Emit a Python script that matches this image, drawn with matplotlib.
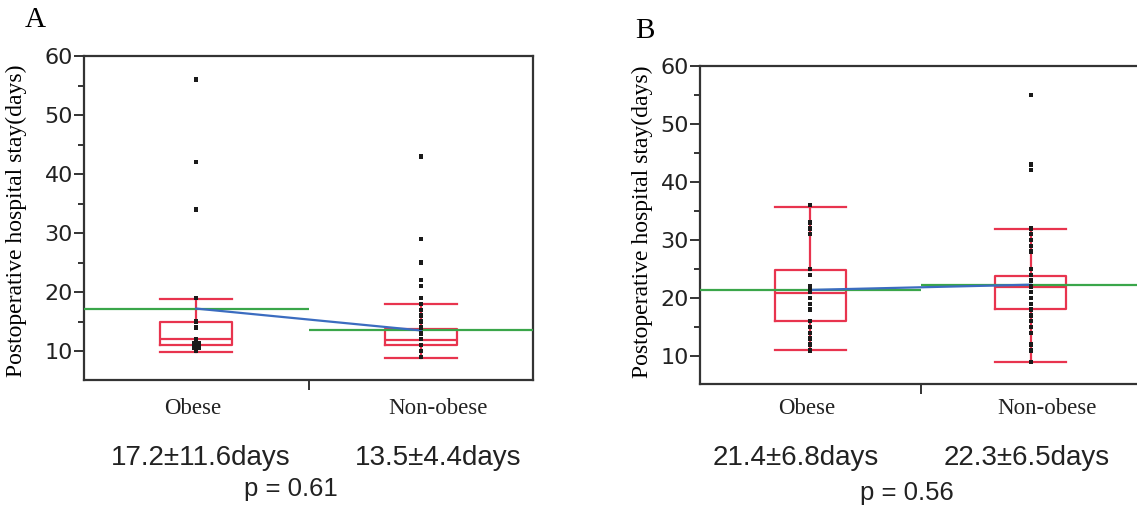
import matplotlib
matplotlib.use("Agg")
import matplotlib.pyplot as plt
import numpy as np

# values
groups = ["Obese", "Non-obese"]

# panel A
a_points = [
    [56, 42, 34, 19, 15, 14, 12, 11, 11, 11, 11, 11, 11, 10],
    [43, 29, 25, 22, 21, 19, 18, 17, 16, 15, 14, 13, 12, 11, 10, 9],
]
a_q1 = [11.0, 11.1]
a_med = [12.0, 11.9]
a_q3 = [15.0, 13.8]
a_lo = [9.9, 8.9]
a_hi = [18.9, 18.0]
a_mean = [17.2, 13.5]
a_sd = [11.6, 4.4]
a_p = 0.61

# panel B
b_points = [
    [36, 33, 32, 31, 25, 24, 22, 21.5, 21, 20, 19, 18, 16, 15, 14, 13, 12, 11],
    [55, 43, 42, 32, 31, 30, 29, 28, 25, 24, 23, 22, 21, 20, 19, 18, 17, 16,
     15, 14, 12, 11, 9],
]
b_q1 = [16.0, 18.1]
b_med = [20.8, 21.9]
b_q3 = [24.8, 23.8]
b_lo = [11.0, 9.0]
b_hi = [35.7, 31.8]
b_mean = [21.4, 22.3]
b_sd = [6.8, 6.5]
b_p = 0.56

RED = "#e8344e"
GREEN = "#3aa64a"
BLUE = "#3b6cc0"
SPINE = "#333333"


def draw_panel(ax, points, q1, med, q3, lo, hi, mean, xmax):
    pos = np.arange(1, len(groups) + 1)
    stats = []
    for i in range(len(groups)):
        stats.append(dict(q1=q1[i], med=med[i], q3=q3[i], whislo=lo[i],
                          whishi=hi[i], fliers=[]))
    line = dict(color=RED, linewidth=1.6)
    ax.bxp(stats, positions=pos, widths=0.32, capwidths=0.32,
           boxprops=line, whiskerprops=line, capprops=line, medianprops=line,
           showfliers=False, zorder=2)

    # group means: green across each half, blue joining them
    xmin = 0.5
    ax.hlines(mean[0], xmin, 1.5, color=GREEN, linewidth=1.6, zorder=3)
    ax.hlines(mean[1], 1.5, xmax, color=GREEN, linewidth=1.6, zorder=3)
    ax.plot(pos, mean, color=BLUE, linewidth=1.6, zorder=4)

    for i, vals in enumerate(points):
        u, c = np.unique(vals, return_counts=True)
        sizes = np.where(c > 1, 45, 10)
        ax.scatter(np.full(len(u), pos[i]), u, s=sizes, marker="s",
                   color="#1a1a1a", linewidths=0, zorder=5)

    ax.set_xlim(xmin, xmax)
    ax.set_xticks([1.5])
    ax.set_xticklabels([])
    ax.set_yticks(np.arange(10, 61, 10))
    ax.set_yticks(np.arange(10, 61, 5), minor=True)
    ax.tick_params(axis="y", which="major", length=7, width=1.4, color=SPINE,
                   labelsize=16, labelcolor="#222222", pad=1)
    ax.tick_params(axis="y", which="minor", length=4, width=1.4, color=SPINE)
    ax.tick_params(axis="x", length=7, width=1.4, color=SPINE)
    for sp in ax.spines.values():
        sp.set_color(SPINE)
        sp.set_linewidth(1.6)
    ax.set_ylabel("Postoperative hospital stay(days)", family="Liberation Serif",
                  fontsize=17)


fig = plt.figure(figsize=(11.37, 5.08), dpi=100)

axA = fig.add_axes([84 / 1137, 128 / 508, 449 / 1137, 324 / 508])
draw_panel(axA, a_points, a_q1, a_med, a_q3, a_lo, a_hi, a_mean, 2.5)
axA.set_ylim(5.1, 60)
axA.yaxis.set_label_coords(-0.127, 0.49)

axB = fig.add_axes([700 / 1137, 124 / 508, 441 / 1137, 318.3 / 508])
draw_panel(axB, b_points, b_q1, b_med, b_q3, b_lo, b_hi, b_mean, 2.5)
axB.set_ylim(5.2, 60)
axB.yaxis.set_label_coords(-0.107, 0.51)

serif = dict(family="Liberation Serif", ha="center", va="center")
sans = dict(family="Liberation Sans", ha="center", va="center", color="#222222")

fig.text(35 / 1137, 1 - 20 / 508, "A", fontsize=21, **serif)
fig.text(645 / 1137, 1 - 31 / 508, "B", fontsize=21, **serif)

label_x = [[193, 438], [807, 1047]]
stat_x = [[201, 438], [796, 1027]]
p_x = [291, 907]
p_y = [489, 493]
for k, (means, sds, p) in enumerate([(a_mean, a_sd, a_p), (b_mean, b_sd, b_p)]):
    for i, g in enumerate(groups):
        fig.text(label_x[k][i] / 1137, 1 - 409 / 508, g, fontsize=16.5,
                 color="#222222", **serif)
        fig.text(stat_x[k][i] / 1137, 1 - 458 / 508,
                 f"{means[i]}\u00b1{sds[i]}days", fontsize=20, **sans)
    fig.text(p_x[k] / 1137, 1 - p_y[k] / 508, f"p = {p}", fontsize=18.5, **sans)

fig.savefig("out.png", dpi=100)
